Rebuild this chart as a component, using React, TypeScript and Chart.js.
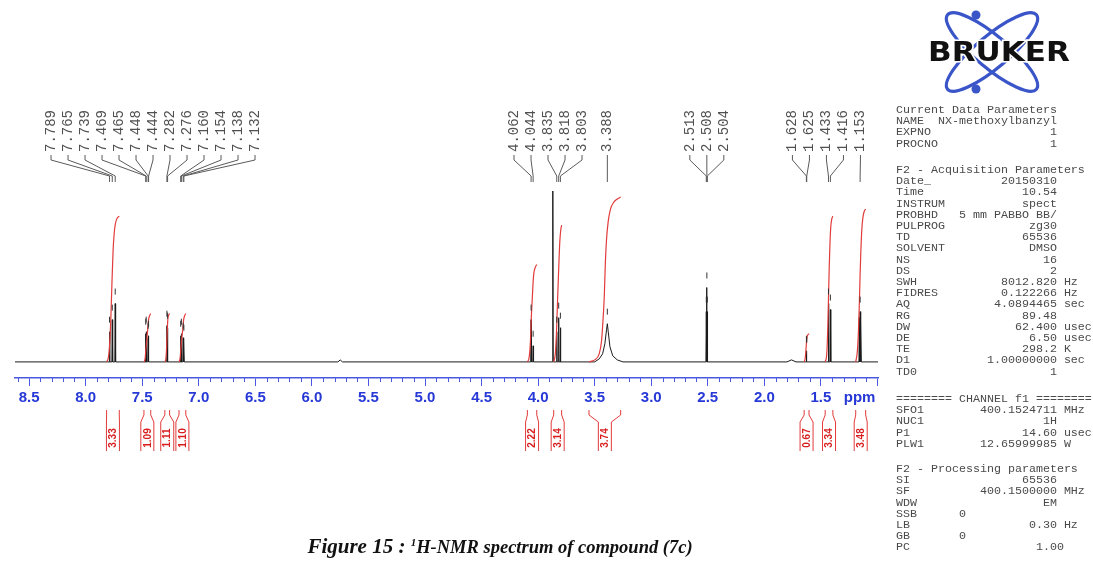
import React, { useEffect, useRef } from "react";
import { Chart, registerables } from "chart.js";

Chart.register(...registerables);

// ---------- axis range ----------
const X_MIN = 0.995;
const X_MAX = 8.625;
const Y_MIN = -16;
const Y_MAX = 171;
const HALF_W = 0.0035;

// ---------- spectrum (sharp lines) ----------
const peakPpm = [
  7.789, 7.765, 7.739, 7.469, 7.465, 7.448, 7.444, 7.282, 7.276, 7.16, 7.154, 7.138, 7.132,
  4.062, 4.044, 3.87, 3.835, 3.818, 3.803, 2.513, 2.508, 2.504, 1.628, 1.625, 1.433, 1.416,
  1.16, 1.153, 1.146,
];
const peakHeight = [
  30, 42, 58, 28, 30, 24, 26, 36, 34, 26, 28, 24, 22,
  42, 16, 170, 30, 44, 34, 50, 74, 50, 11, 10, 58, 52,
  44, 50, 40,
];

// ---------- spectrum (broad humps) ----------
const humpPpm = [5.77, 5.75, 5.73, 3.5, 3.46, 3.43, 3.41, 3.395, 3.388, 3.38, 3.365, 3.34, 3.3, 3.25, 1.8, 1.76, 1.72];
const humpHeight = [0, 2, 0, 0, 3, 8, 18, 32, 38, 30, 15, 6, 2, 0, 0, 2, 0];

// ---------- peak labels ----------
const labelPpm = [
  7.789, 7.765, 7.739, 7.469, 7.465, 7.448, 7.444, 7.282, 7.276, 7.16, 7.154, 7.138, 7.132,
  4.062, 4.044, 3.835, 3.818, 3.803, 3.388, 2.513, 2.508, 2.504, 1.628, 1.625, 1.433, 1.416, 1.153,
];

// ---------- integrals ----------
const integralValues = ["3.33", "1.09", "1.11", "1.10", "2.22", "3.14", "3.74", "0.67", "3.34", "3.48"];
const integralCurvePpm = [
  [7.815, 7.8, 7.788, 7.778, 7.768, 7.758, 7.748, 7.738, 7.726, 7.714, 7.703],
  [7.485, 7.475, 7.468, 7.46, 7.452, 7.444, 7.435, 7.425],
  [7.3, 7.29, 7.284, 7.279, 7.274, 7.268, 7.258],
  [7.175, 7.165, 7.158, 7.15, 7.142, 7.134, 7.125, 7.115],
  [4.095, 4.08, 4.068, 4.06, 4.052, 4.045, 4.038, 4.025, 4.012],
  [3.862, 3.848, 3.838, 3.83, 3.822, 3.815, 3.808, 3.8, 3.792],
  [3.55, 3.5, 3.46, 3.44, 3.43, 3.415, 3.405, 3.395, 3.38, 3.36, 3.33, 3.3, 3.27],
  [1.648, 1.638, 1.632, 1.627, 1.622, 1.615, 1.605],
  [1.462, 1.448, 1.44, 1.433, 1.426, 1.419, 1.412, 1.404, 1.394],
  [1.192, 1.178, 1.168, 1.16, 1.153, 1.146, 1.138, 1.128, 1.116, 1.104],
];
const integralCurveHeight = [
  [0, 4, 18, 42, 78, 110, 128, 137, 142, 144, 145],
  [0, 3, 12, 22, 32, 42, 46, 48],
  [0, 4, 16, 30, 42, 46, 48],
  [0, 4, 14, 24, 32, 42, 46, 48],
  [0, 4, 20, 45, 62, 78, 88, 94, 97],
  [0, 8, 28, 55, 80, 102, 120, 131, 136],
  [0, 2, 8, 20, 35, 65, 100, 122, 140, 152, 159, 162, 164],
  [0, 4, 12, 20, 25, 27, 28],
  [0, 8, 30, 62, 95, 120, 135, 142, 145],
  [0, 10, 30, 58, 88, 112, 132, 144, 150, 152],
];

// ---------- axis ticks ----------
const tickValues = [8.5, 8.0, 7.5, 7.0, 6.5, 6.0, 5.5, 5.0, 4.5, 4.0, 3.5, 3.0, 2.5, 2.0, 1.5, 1.0];
const tickLabels = ["8.5", "8.0", "7.5", "7.0", "6.5", "6.0", "5.5", "5.0", "4.5", "4.0", "3.5", "3.0", "2.5", "2.0", "1.5", ""];

// ---------- parameter panel ----------
const dataParamNames = ["NAME", "EXPNO", "PROCNO"];
const dataParamValues = ["NX-methoxylbanzyl", "1", "1"];
const acqNames = ["Date_", "Time", "INSTRUM", "PROBHD", "PULPROG", "TD", "SOLVENT", "NS", "DS", "SWH", "FIDRES", "AQ", "RG", "DW", "DE", "TE", "D1", "TD0"];
const acqValues = ["20150310", "10.54", "spect", "5 mm PABBO BB/", "zg30", "65536", "DMSO", "16", "2", "8012.820", "0.122266", "4.0894465", "89.48", "62.400", "6.50", "298.2", "1.00000000", "1"];
const acqUnits = ["", "", "", "", "", "", "", "", "", "Hz", "Hz", "sec", "", "usec", "usec", "K", "sec", ""];
const chanNames = ["SFO1", "NUC1", "P1", "PLW1"];
const chanValues = ["400.1524711", "1H", "14.60", "12.65999985"];
const chanUnits = ["MHz", "", "usec", "W"];
const procNames = ["SI", "SF", "WDW", "SSB", "LB", "GB", "PC"];
const procValues = ["65536", "400.1500000", "EM", "0", "0.30", "0", "1.00"];
const procUnits = ["", "MHz", "", "", "Hz", "", ""];

const AXIS_BLUE = "#4a5ae0";
const LABEL_BLUE = "#2638d6";
const RED_LINE = "#e23b3b";
const RED_TEXT = "#d81e1e";

const COL = 23;
function row(label: string, value: string, unit: string): string {
  if (label === "SSB" || label === "GB") return label.padEnd(9) + value;
  const extra = label === "PC" ? 1 : 0;
  const pad = Math.max(1, COL + extra - label.length - value.length);
  return label + " ".repeat(pad) + value + (unit ? " " + unit : "");
}

function buildSpectrum() {
  const pts: { x: number; y: number }[] = [
    { x: X_MAX, y: 0 },
    { x: X_MIN, y: 0 },
  ];
  peakPpm.forEach((p, i) => {
    pts.push({ x: p + HALF_W, y: 0 }, { x: p, y: peakHeight[i] }, { x: p - HALF_W, y: 0 });
  });
  humpPpm.forEach((p, i) => pts.push({ x: p, y: humpHeight[i] }));
  pts.sort((a, b) => b.x - a.x);
  return pts;
}

function heightAt(ppm: number): number {
  const i = peakPpm.findIndex((p) => Math.abs(p - ppm) < 1e-6);
  if (i >= 0) return peakHeight[i];
  const j = humpPpm.findIndex((p) => Math.abs(p - ppm) < 1e-6);
  return j >= 0 ? humpHeight[j] : 0;
}

function spread(xs: number[], gap: number): number[] {
  let clusters = xs.map((x, i) => ({ start: i, end: i, center: x }));
  let merged = true;
  while (merged) {
    merged = false;
    for (let i = 0; i < clusters.length - 1; i++) {
      const a = clusters[i];
      const b = clusters[i + 1];
      const aRight = a.center + ((a.end - a.start) * gap) / 2;
      const bLeft = b.center - ((b.end - b.start) * gap) / 2;
      if (bLeft - aRight < gap) {
        const slice = xs.slice(a.start, b.end + 1);
        const c = slice.reduce((s, v) => s + v, 0) / slice.length;
        clusters.splice(i, 2, { start: a.start, end: b.end, center: c });
        merged = true;
        break;
      }
    }
  }
  const out: number[] = new Array(xs.length);
  clusters.forEach((c) => {
    const n = c.end - c.start + 1;
    for (let k = 0; k < n; k++) out[c.start + k] = c.center + (k - (n - 1) / 2) * gap;
  });
  return out;
}

const overlayPlugin = {
  id: "nmrOverlay",
  afterDraw(chart: any) {
    const ctx: CanvasRenderingContext2D = chart.ctx;
    const xs = chart.scales.x;
    const area = chart.chartArea;
    ctx.save();

    // minor ticks
    ctx.strokeStyle = AXIS_BLUE;
    ctx.lineWidth = 1;
    for (let k = Math.ceil(X_MIN * 10); k <= Math.floor(X_MAX * 10); k++) {
      if (k % 5 === 0) continue;
      const px = Math.round(xs.getPixelForValue(k / 10)) + 0.5;
      ctx.beginPath();
      ctx.moveTo(px, area.bottom);
      ctx.lineTo(px, area.bottom + 4);
      ctx.stroke();
    }

    // ppm unit label
    ctx.fillStyle = LABEL_BLUE;
    ctx.font = 'bold 15px "Liberation Sans", Arial, sans-serif';
    ctx.textAlign = "right";
    ctx.textBaseline = "middle";
    ctx.fillText("ppm", xs.getPixelForValue(1.0) - 2, area.bottom + 20);

    // peak labels with leaders
    const peakX = labelPpm.map((p) => xs.getPixelForValue(p));
    const lx = spread(peakX, 17);
    const top = area.top;
    ctx.font = '14px "Liberation Mono", monospace';
    ctx.fillStyle = "#505050";
    ctx.strokeStyle = "#5a5a5a";
    ctx.lineWidth = 1;
    labelPpm.forEach((p, i) => {
      ctx.save();
      ctx.translate(lx[i], top - 38);
      ctx.rotate(-Math.PI / 2);
      ctx.textAlign = "left";
      ctx.textBaseline = "middle";
      ctx.fillText(p.toFixed(3), 0, 0);
      ctx.restore();
      ctx.beginPath();
      ctx.moveTo(lx[i], top - 35);
      ctx.lineTo(lx[i], top - 30);
      ctx.lineTo(peakX[i], top - 14);
      ctx.lineTo(peakX[i], top - 8);
      ctx.stroke();
    });

    // integral brackets
    const base = area.bottom;
    integralCurvePpm.forEach((ps, i) => {
      const xa = xs.getPixelForValue(ps[0]);
      const xb = xs.getPixelForValue(ps[ps.length - 1]);
      const xc = (xa + xb) / 2;
      const hw = 6.5;
      ctx.strokeStyle = RED_LINE;
      ctx.lineWidth = 1;
      ctx.beginPath();
      ctx.moveTo(xa, base + 32);
      ctx.lineTo(xa, base + 37);
      ctx.lineTo(xc - hw, base + 44);
      ctx.lineTo(xc - hw, base + 73);
      ctx.moveTo(xb, base + 32);
      ctx.lineTo(xb, base + 37);
      ctx.lineTo(xc + hw, base + 44);
      ctx.lineTo(xc + hw, base + 73);
      ctx.stroke();
      ctx.save();
      ctx.translate(xc, base + 60);
      ctx.rotate(-Math.PI / 2);
      ctx.fillStyle = RED_TEXT;
      ctx.font = 'bold 10px "Liberation Sans", Arial, sans-serif';
      ctx.textAlign = "center";
      ctx.textBaseline = "middle";
      ctx.fillText(integralValues[i], 0, 0.5);
      ctx.restore();
    });

    ctx.restore();
  },
};

export default function App() {
  const ref = useRef<HTMLCanvasElement>(null);

  useEffect(() => {
    const spectrum = buildSpectrum();
    const markers = labelPpm.map((p) => ({ x: p, y: heightAt(p) + 12 }));
    const datasets: any[] = [
      {
        type: "line",
        data: spectrum,
        borderColor: "#1b1b1b",
        borderWidth: 1,
        pointRadius: 0,
        tension: 0,
        order: 3,
      },
      ...integralCurvePpm.map((ps, i) => ({
        type: "line",
        data: ps.map((p, j) => ({ x: p, y: integralCurveHeight[i][j] })),
        borderColor: RED_LINE,
        borderWidth: 1.2,
        pointRadius: 0,
        cubicInterpolationMode: "monotone",
        order: 2,
      })),
      {
        type: "scatter",
        data: markers,
        pointStyle: "line",
        pointRotation: 90,
        pointRadius: 3,
        pointBorderColor: "#333",
        pointBorderWidth: 1,
        borderColor: "#333",
        order: 1,
      },
    ];

    const chart = new Chart(ref.current as HTMLCanvasElement, {
      type: "line",
      data: { datasets },
      options: {
        responsive: false,
        animation: false,
        events: [],
        layout: { padding: { left: 15, right: 215, top: 190, bottom: 151 } },
        plugins: { legend: { display: false }, tooltip: { enabled: false } },
        scales: {
          x: {
            type: "linear",
            reverse: true,
            min: X_MIN,
            max: X_MAX,
            afterBuildTicks: (scale: any) => {
              scale.ticks = tickValues.map((v) => ({ value: v }));
            },
            ticks: {
              autoSkip: false,
              maxRotation: 0,
              padding: 3,
              color: LABEL_BLUE,
              font: { family: '"Liberation Sans", Arial, sans-serif', size: 15, weight: "bold" },
              callback: (v: any) => {
                const i = tickValues.findIndex((t) => Math.abs(t - Number(v)) < 1e-6);
                return i >= 0 ? tickLabels[i] : "";
              },
            },
            grid: {
              drawOnChartArea: false,
              drawTicks: true,
              tickLength: 8,
              color: AXIS_BLUE,
              lineWidth: 1,
            },
            border: { display: true, color: AXIS_BLUE, width: 1.5 },
          },
          y: { display: false, min: Y_MIN, max: Y_MAX },
        },
      } as any,
      plugins: [overlayPlugin],
    });
    return () => chart.destroy();
  }, []);

  const monoStyle: React.CSSProperties = {
    position: "absolute",
    left: 896,
    margin: 0,
    fontFamily: '"Liberation Mono", monospace',
    fontSize: "11.67px",
    lineHeight: "11.2px",
    color: "#4a4a4a",
    whiteSpace: "pre",
  };

  const block1 = ["Current Data Parameters", ...dataParamNames.map((n, i) => row(n, dataParamValues[i], ""))];
  const block2 = ["F2 - Acquisition Parameters", ...acqNames.map((n, i) => row(n, acqValues[i], acqUnits[i]))];
  const block3 = ["======== CHANNEL f1 ========", ...chanNames.map((n, i) => row(n, chanValues[i], chanUnits[i]))];
  const block4 = ["F2 - Processing parameters", ...procNames.map((n, i) => row(n, procValues[i], procUnits[i]))];

  return (
    <div
      style={{
        position: "absolute",
        left: 0,
        top: 0,
        width: 1093,
        height: 561,
        background: "#fff",
        overflow: "hidden",
      }}
    >
      <canvas ref={ref} width={1093} height={561} style={{ position: "absolute", left: 0, top: 0 }} />

      <pre style={{ ...monoStyle, top: 105 }}>{block1.join("\n")}</pre>
      <pre style={{ ...monoStyle, top: 165 }}>{block2.join("\n")}</pre>
      <pre style={{ ...monoStyle, top: 394 }}>{block3.join("\n")}</pre>
      <pre style={{ ...monoStyle, top: 464 }}>{block4.join("\n")}</pre>

      <svg
        width={203}
        height={100}
        viewBox="0 0 203 100"
        style={{ position: "absolute", left: 890, top: 0 }}
      >
        <g fill="none" stroke="#3a55c8" strokeWidth={3.2}>
          <ellipse cx={102} cy={52} rx={58} ry={16} transform="rotate(40 102 52)" />
          <ellipse cx={102} cy={52} rx={58} ry={16} transform="rotate(-40 102 52)" />
        </g>
        <circle cx={86} cy={15} r={4.5} fill="#3a55c8" />
        <circle cx={86} cy={89} r={4.5} fill="#3a55c8" />
        <text
          x={38}
          y={61}
          textLength={142}
          lengthAdjust="spacingAndGlyphs"
          fontFamily='"DejaVu Sans", "Liberation Sans", sans-serif'
          fontWeight={900}
          fontSize={27}
          fill="#111"
          stroke="#fff"
          strokeWidth={3}
          paintOrder="stroke"
        >
          BRUKER
        </text>
      </svg>

      <div
        style={{
          position: "absolute",
          left: 0,
          width: 1000,
          top: 529,
          textAlign: "center",
          fontFamily: '"Liberation Serif", "Times New Roman", serif',
          fontStyle: "italic",
          fontWeight: "bold",
          fontSize: 18.5,
          lineHeight: "26px",
          color: "#111",
        }}
      >
        <span style={{ fontSize: 21 }}>Figure 15</span>
        <span style={{ fontSize: 21 }}> : </span>
        <sup style={{ fontSize: 11 }}>1</sup>H-NMR spectrum of compound (7c)
      </div>
    </div>
  );
}
